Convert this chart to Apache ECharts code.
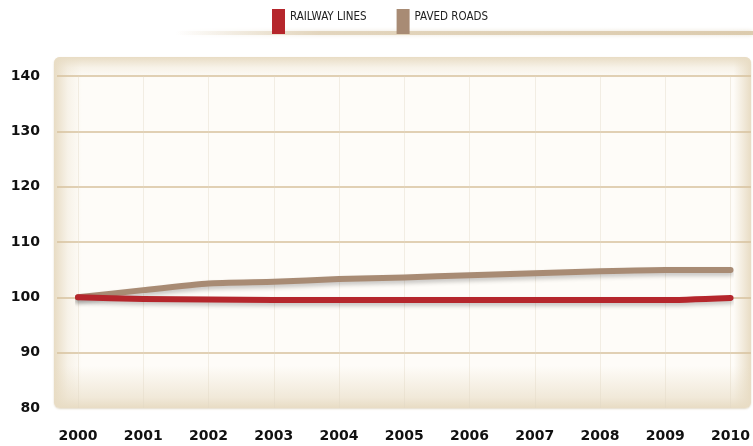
<!DOCTYPE html>
<html><head><meta charset="utf-8">
<script src="https://cdn.jsdelivr.net/npm/echarts@6/dist/echarts.min.js"></script>
<style>html,body{margin:0;padding:0;background:#fff;}#c{width:753px;height:446px;}</style>
</head><body><div id="c"></div>
<script>
const years = ['2000','2001','2002','2003','2004','2005','2006','2007','2008','2009','2010'];
const railwayLines = [100, 99.7, 99.6, 99.5, 99.5, 99.5, 99.5, 99.5, 99.5, 99.5, 99.9];
const pavedRoads = [100, 101.3, 102.5, 102.8, 103.3, 103.6, 104.0, 104.35, 104.7, 104.95, 104.95];
const yTicks = {min: 80, max: 140, interval: 10};

const chart = echarts.init(document.getElementById('c'), null, {renderer: 'canvas'});
const beige = 'rgba(232,220,196,';
const legendFont = 'DejaVu Sans Condensed, DejaVu Sans, sans-serif';
chart.setOption({
  animation: false,
  backgroundColor: '#fff',
  graphic: [
    {type: 'rect', z: -100, shape: {x: 175, y: 31, width: 578, height: 4},
      style: {fill: new echarts.graphic.LinearGradient(0,0,1,0,[
        {offset:0,color:'rgba(215,195,160,0)'},{offset:0.25,color:'rgba(215,195,160,0.6)'},{offset:1,color:'rgba(215,195,160,0.8)'}]),
        shadowBlur: 4, shadowColor: 'rgba(200,180,140,0.5)'}},
    {type: 'rect', z: -100, shape: {x: 54, y: 57, width: 697, height: 351, r: 6},
      style: {fill: '#fefcf8', shadowBlur: 2, shadowOffsetY: 1, shadowColor: 'rgba(190,170,130,0.45)'}},
    {type: 'rect', z: -99, shape: {x: 54, y: 57, width: 697, height: 351, r: 6},
      style: {fill: new echarts.graphic.LinearGradient(0,0,1,0,[
        {offset:0,color:beige+'1)'},{offset:0.02,color:beige+'0.3)'},{offset:0.04,color:beige+'0)'},
        {offset:0.975,color:beige+'0)'},{offset:0.99,color:beige+'0.6)'},{offset:1,color:beige+'1)'}])}},
    {type: 'rect', z: -99, shape: {x: 54, y: 57, width: 697, height: 351, r: 6},
      style: {fill: new echarts.graphic.LinearGradient(0,0,0,1,[
        {offset:0,color:beige+'1)'},{offset:0.03,color:beige+'0.3)'},{offset:0.06,color:beige+'0)'},
        {offset:0.88,color:beige+'0)'},{offset:0.97,color:beige+'0.6)'},{offset:1,color:beige+'1)'}])}}
  ],
  legend: {
    top: 9, left: 272, padding: 0, itemGap: 30, itemWidth: 13, itemHeight: 25,
    icon: 'rect',
    formatter: function (n) { return '{a|' + n + '}'; },
    textStyle: {fontFamily: legendFont, fontSize: 11.5, color: '#222',
      rich: {a: {fontFamily: legendFont, fontSize: 11.5, color: '#222', padding: [0,0,9,0]}}},
    data: ['RAILWAY LINES', 'PAVED ROADS']
  },
  grid: [
    {left: 57, right: 2, top: 76, bottom: 38},
    {left: 78, right: 22, top: 76, bottom: 38}
  ],
  xAxis: [
    {gridIndex: 0, type: 'value', show: false, min: 0, max: 1},
    {gridIndex: 1, type: 'category', data: years, boundaryGap: false,
      axisLine: {show: false}, axisTick: {show: false},
      axisLabel: {fontFamily: 'DejaVu Sans', fontWeight: 'bold', fontSize: 14, color: '#111', margin: 21},
      splitLine: {show: true, lineStyle: {color: 'rgba(225,215,195,0.4)', width: 1}}}
  ],
  yAxis: [
    {gridIndex: 0, type: 'value', min: yTicks.min, max: yTicks.max, interval: yTicks.interval,
      axisLine: {show: false}, axisTick: {show: false},
      axisLabel: {fontFamily: 'DejaVu Sans', fontWeight: 'bold', fontSize: 14, color: '#111', margin: 17},
      splitLine: {show: true, lineStyle: {color: '#d7c29e', width: 1.5}, showMinLine: false}},
    {gridIndex: 1, type: 'value', min: yTicks.min, max: yTicks.max, interval: yTicks.interval, show: false,
      splitLine: {show: false}}
  ],
  series: [
    {name: 'PAVED ROADS', type: 'line', xAxisIndex: 1, yAxisIndex: 1, data: pavedRoads,
      symbol: 'none', smooth: 0.15, color: '#a88b74',
      lineStyle: {width: 6, color: '#a88b74', cap: 'round', join: 'round',
        shadowBlur: 4, shadowOffsetY: 3, shadowColor: 'rgba(0,0,0,0.22)'}},
    {name: 'RAILWAY LINES', type: 'line', xAxisIndex: 1, yAxisIndex: 1, data: railwayLines,
      symbol: 'none', smooth: 0.15, color: '#b5262c',
      lineStyle: {width: 6, color: '#b5262c', cap: 'round', join: 'round',
        shadowBlur: 4, shadowOffsetY: 3, shadowColor: 'rgba(0,0,0,0.22)'}}
  ]
});
</script></body></html>
